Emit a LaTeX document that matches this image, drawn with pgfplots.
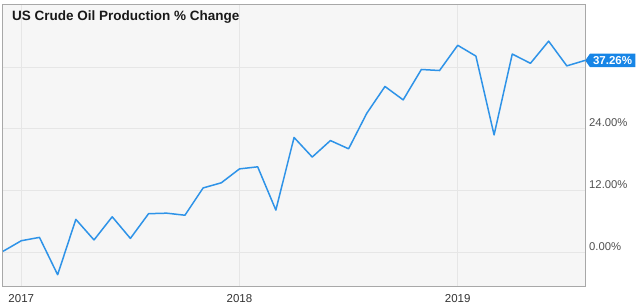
\documentclass[border=0pt]{standalone}
\usepackage{pgfplots}
\pgfplotsset{compat=1.18}
\usepackage{fontspec}
\setmainfont{Liberation Sans}
\usetikzlibrary{shapes.symbols}
\definecolor{bgc}{HTML}{F6F6F6}
\definecolor{gridc}{HTML}{E6E6E6}
\definecolor{borderc}{HTML}{A8A8A8}
\definecolor{linec}{HTML}{2E93E8}
\definecolor{tagc}{HTML}{1785E6}
\definecolor{tickc}{HTML}{505050}
\definecolor{yearc}{HTML}{333333}
\pgfplotstableread{
m v
-1 0.2
0 2.25
1 2.9
2 -4.35
3 6.4
4 2.4
5 6.9
6 2.7
7 7.5
8 7.6
9 7.2
10 12.5
11 13.5
12 16.2
13 16.6
14 8.2
15 22.3
16 18.5
17 21.7
18 20.1
19 27.0
20 32.2
21 29.6
22 35.5
23 35.3
24 40.2
25 38.1
26 22.8
27 38.5
28 36.7
29 41.0
30 36.2
31 37.26
}\oil
\begin{document}
\begin{tikzpicture}
\begin{axis}[
  scale only axis,
  width=583bp, height=281.3bp,
  xmin=-1.06, xmax=31,
  ymin=-6.54, ymax=48.08,
  axis background/.style={fill=bgc},
  axis line style={borderc, line width=0.8bp},
  grid=major,
  major grid style={gridc, line width=0.8bp},
  major tick length=0pt,
  xtick={0,12,24},
  xticklabels={2017,2018,2019},
  xticklabel style={anchor=north, inner sep=0pt, yshift=-8.5bp, text=yearc, font=\fontsize{11.5bp}{13bp}\selectfont},
  ytick={0,12,24,36},
  yticklabels={0.00\%,12.00\%,24.00\%,{}},
  yticklabel pos=right,
  yticklabel style={anchor=base west, inner sep=0pt, xshift=4bp, yshift=2bp, text=tickc, font=\fontsize{11.3bp}{13bp}\selectfont},
  /pgf/number format/assume math mode=true,
  clip=true,
]
\addplot[linec, line width=1.5bp, line join=round, mark=none] table[x=m, y=v] {\oil};
\fill[white] (rel axis cs:0,1) ++(1bp,0) rectangle ++(247bp,-23.2bp);
\node[anchor=base west, inner sep=0pt, xshift=10bp, yshift=-16bp, font=\bfseries\fontsize{13.5bp}{16bp}\selectfont, text=black!90]
  at (rel axis cs:0,1) {US Crude Oil Production \% Change};
\end{axis}
\begin{axis}[
  scale only axis,
  width=583bp, height=281.3bp,
  xmin=-1.06, xmax=31,
  ymin=-6.54, ymax=48.08,
  hide axis, clip=false,
]
\addplot[draw=none, mark=none] coordinates {(31,37.26)};
\node[signal, signal to=west, signal pointer angle=110, fill=tagc, text=white, anchor=west,
  inner xsep=2bp, inner ysep=0pt, minimum height=13.4bp, minimum width=50bp,
  font=\bfseries\fontsize{11.5bp}{13bp}\selectfont] at (axis cs:31,37.26) {37.26\%};
\end{axis}
\pgfresetboundingbox
\path[use as bounding box] (-2bp,-22bp) rectangle (638bp,286bp);
\end{tikzpicture}
\end{document}
